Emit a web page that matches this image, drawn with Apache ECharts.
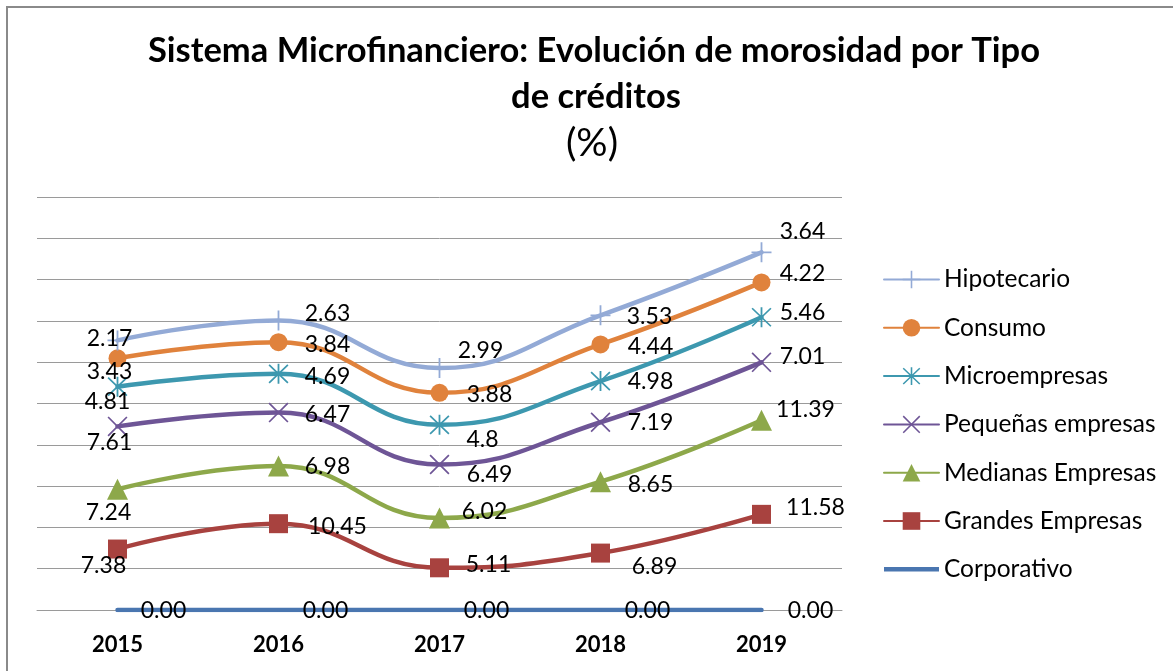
<!DOCTYPE html>
<html><head><meta charset="utf-8">
<script src="https://cdn.jsdelivr.net/npm/echarts@6/dist/echarts.min.js"></script>
<style>html,body{margin:0;padding:0;background:#fff}#c{width:1173px;height:671px}</style>
</head><body><div id="c"></div>
<script>
// ---- data ----
const years = ['2015','2016','2017','2018','2019'];
const hipotecario = [2.17, 2.63, 2.99, 3.53, 3.64];
const consumo = [3.43, 3.84, 3.88, 4.44, 4.22];
const microempresas = [4.81, 4.69, 4.8, 4.98, 5.46];
const pequenas = [7.61, 6.47, 6.49, 7.19, 7.01];
const medianas = [7.24, 6.98, 6.02, 8.65, 11.39];
const grandes = [7.38, 10.45, 5.11, 6.89, 11.58];
const corporativo = [0, 0, 0, 0, 0];
const titleLines = ['Sistema Microfinanciero: Evolución de morosidad por Tipo', 'de créditos', '(%)'];

// ---- label offsets (label centre relative to marker), per series per year ----
const labelOffsets = {
  'Hipotecario':       [[-8,-2],[49,-7],[41,-17],[49,1],[41,-21]],
  'Consumo':           [[-8,13],[49,2],[50,2],[50,2],[41,-9]],
  'Microempresas':     [[-10,15],[49,3],[43,15],[50,0],[41,-5]],
  'Pequeñas empresas': [[-8,16],[49,2],[50,10],[50,0],[41,-6]],
  'Medianas Empresas': [[-9,23],[49,1],[45,-6],[50,3],[44,-11]],
  'Grandes Empresas':  [[-14,17],[59,3],[49,-3],[54,13],[54,-7]],
  'Corporativo':       [[46,1],[47,1],[47,1],[47,1],[49,1]]
};

const FONT = 'Lato';
const plusPath = 'path://M9.1,0H10.9V20H9.1Z M0,9.1H20V10.9H0Z';
const xPath = 'path://M0,1.2L1.2,0L20,18.8L18.8,20Z M18.8,0L20,1.2L1.2,20L0,18.8Z';
const starPath = 'path://M9.1,0H10.9V20H9.1Z M0,1.6L1.2,0.4L20,18.4L18.8,19.6Z M18.8,0.4L20,1.6L1.2,19.6L0,18.4Z';

const defs = [
  {name:'Corporativo', data:corporativo, color:'#4A76B0', symbol:'circle', size:3},
  {name:'Grandes Empresas', data:grandes, color:'#A8423F', symbol:'rect', size:19},
  {name:'Medianas Empresas', data:medianas, color:'#8DA84A', symbol:'triangle', size:21},
  {name:'Pequeñas empresas', data:pequenas, color:'#6E5596', symbol:xPath, size:20},
  {name:'Microempresas', data:microempresas, color:'#3D98AF', symbol:starPath, size:20},
  {name:'Consumo', data:consumo, color:'#E0823C', symbol:'circle', size:18},
  {name:'Hipotecario', data:hipotecario, color:'#93AAD6', symbol:plusPath, size:20}
];

const series = defs.map(d => ({
  name: d.name,
  type: 'line',
  stack: 'total',
  smooth: 0.45,
  symbol: d.symbol,
  symbolSize: d.size,
  showSymbol: true,
  lineStyle: {color: d.color, width: 4.5, cap: 'round'},
  itemStyle: {color: d.color, borderWidth: 0},
  label: {
    show: true, position: 'inside', color: '#000', fontFamily: FONT, fontSize: 23,
    formatter: p => (p.value === 0 ? '0.00' : String(p.value))
  },
  emphasis: {disabled: true},
  data: d.data.map((v, i) => ({value: v, label: {offset: labelOffsets[d.name][i]}}))
}));

const legendNames = ['Hipotecario','Consumo','Microempresas','Pequeñas empresas','Medianas Empresas','Grandes Empresas','Corporativo'];

const chart = echarts.init(document.getElementById('c'), null, {renderer: 'canvas'});
chart.setOption({
  animation: false,
  backgroundColor: '#fff',
  graphic: [
    {type: 'rect', shape: {x: 7, y: 7, width: 1300, height: 800},
     style: {fill: 'none', stroke: '#8a8a8a', lineWidth: 2}, silent: true, z: -1},
    {type: 'text', x: 594, y: 51, silent: true,
     style: {text: titleLines[0], font: 'bold 34.5px Lato', fill: '#000', align: 'center', verticalAlign: 'middle'}},
    {type: 'text', x: 596, y: 97, silent: true,
     style: {text: titleLines[1], font: 'bold 34.5px Lato', fill: '#000', align: 'center', verticalAlign: 'middle'}},
    {type: 'text', x: 592, y: 143, silent: true,
     style: {text: titleLines[2], font: 'normal 39px Lato', fill: '#000', align: 'center', verticalAlign: 'middle'}}
  ],
  legend: {
    orient: 'vertical', left: 883, top: 267, padding: 0,
    itemWidth: 55, itemHeight: 22, itemGap: 23.3,
    data: legendNames.map(n => n === 'Corporativo' ? {name: n, icon: 'path://M0,0H55V4.5H0Z'} : {name: n}),
    textStyle: {fontFamily: FONT, fontSize: 24.5, color: '#000', lineHeight: 22}
  },
  grid: {left: 37, right: 331, top: 197, bottom: 61, containLabel: false},
  xAxis: {
    type: 'category', data: years, boundaryGap: true,
    axisLine: {show: true, lineStyle: {color: '#9a9a9a', width: 1}},
    axisTick: {show: false},
    axisLabel: {fontFamily: FONT, fontSize: 22, fontWeight: 'bold', color: '#000', margin: 24}
  },
  yAxis: {
    type: 'value', min: 0, max: 50, interval: 5,
    axisLine: {show: false}, axisTick: {show: false}, axisLabel: {show: false},
    splitLine: {show: true, lineStyle: {color: '#9a9a9a', width: 1}}
  },
  series: series
});
</script></body></html>
